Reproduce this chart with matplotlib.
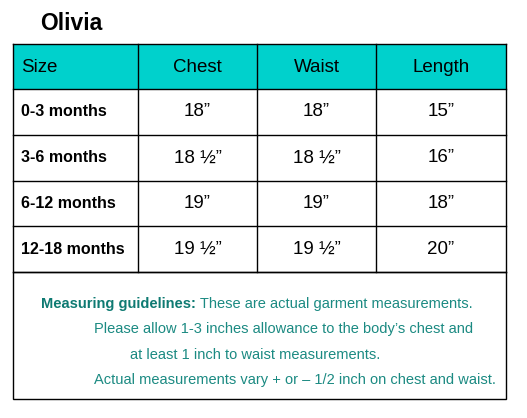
import matplotlib
matplotlib.use("Agg")
import matplotlib.pyplot as plt
from matplotlib.patches import Rectangle

title = "Olivia"
headers = ["Size", "Chest", "Waist", "Length"]
sizes = ["0-3 months", "3-6 months", "6-12 months", "12-18 months"]
chest = ["18\u201d", "18 \u00bd\u201d", "19\u201d", "19 \u00bd\u201d"]
waist = ["18\u201d", "18 \u00bd\u201d", "19\u201d", "19 \u00bd\u201d"]
length = ["15\u201d", "16\u201d", "18\u201d", "20\u201d"]
guide_bold = "Measuring guidelines:"
guide_lines = [" These are actual garment measurements.",
               "Please allow 1-3 inches allowance to the body\u2019s chest and",
               "at least 1 inch to waist measurements.",
               "Actual measurements vary + or \u2013 1/2 inch on chest and waist."]

plt.rcParams['font.family'] = ['Liberation Sans', 'DejaVu Sans']
fig = plt.figure(figsize=(5.27, 4.18), dpi=100)
ax = fig.add_axes([0, 0, 1, 1])
ax.set_xlim(0, 527); ax.set_ylim(418, 0); ax.axis('off')

xs = [13, 138, 257, 376, 506]
ys = [44, 89, 135, 181, 226, 272]
teal = '#00d1cc'
ax.add_patch(Rectangle((xs[0], ys[0]), xs[-1]-xs[0], ys[1]-ys[0], facecolor=teal, edgecolor='none'))
lw = 1.0
for y in ys:
    ax.plot([xs[0], xs[-1]], [y, y], color='black', lw=lw)
for x in xs:
    ax.plot([x, x], [ys[0], ys[-1]], color='black', lw=lw)
ax.add_patch(Rectangle((xs[0], ys[-1]), xs[-1]-xs[0], 399-ys[-1], facecolor='none', edgecolor='black', lw=lw))

ax.text(40, 23, title, fontsize=16.5, fontweight='bold', va='center', ha='left')
cx = [(xs[i]+xs[i+1])/2 for i in range(4)]
ax.text(21, 67, headers[0], fontsize=13.5, va='center', ha='left')
for i in range(1, 4):
    ax.text(cx[i], 67, headers[i], fontsize=13.5, va='center', ha='center')
for r in range(4):
    yc = (ys[r+1]+ys[r+2])/2
    ax.text(21, yc, sizes[r], fontsize=11.5, fontweight='bold', va='center', ha='left')
    for c, col in enumerate([chest, waist, length]):
        ax.text(cx[c+1], yc, col[r], fontsize=13.5, va='center', ha='center')

gcol = '#1b8a82'
fs = 10.5
t = ax.text(41, 304, guide_bold, fontsize=fs, fontweight='bold', color='#0e7a72', va='center', ha='left')
fig.canvas.draw()
bb = t.get_window_extent(fig.canvas.get_renderer())
xend = ax.transData.inverted().transform((bb.x1, bb.y0))[0]
ax.text(xend, 304, guide_lines[0], fontsize=fs, color=gcol, va='center', ha='left')
ax.text(94, 329, guide_lines[1], fontsize=fs, color=gcol, va='center', ha='left')
ax.text(130, 355, guide_lines[2], fontsize=fs, color=gcol, va='center', ha='left')
ax.text(94, 380, guide_lines[3], fontsize=fs, color=gcol, va='center', ha='left')

fig.savefig("out.png", dpi=100)
